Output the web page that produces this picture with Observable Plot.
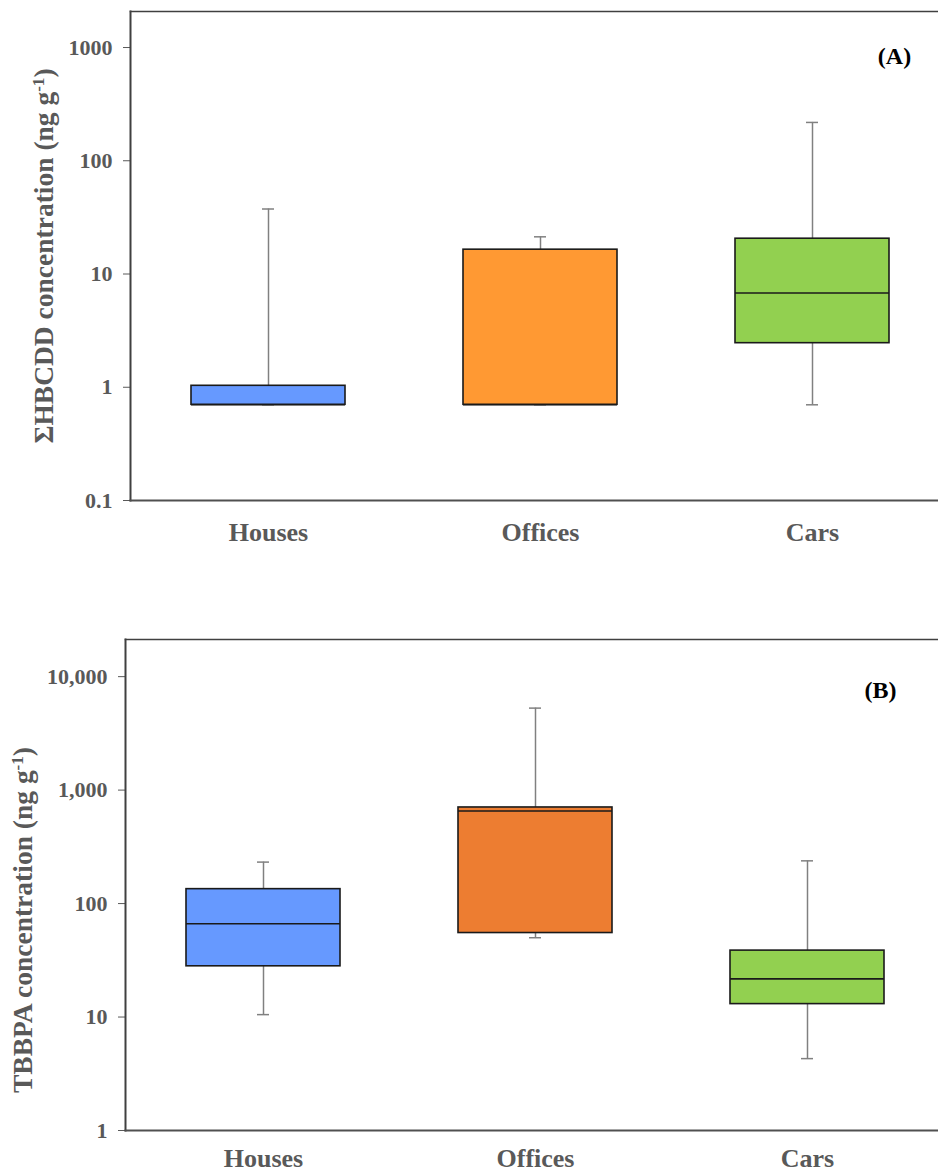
<!DOCTYPE html>
<html>
<head>
<meta charset="utf-8">
<script src="https://cdn.jsdelivr.net/npm/d3@7"></script>
<script src="https://cdn.jsdelivr.net/npm/@observablehq/plot@0.6"></script>
<style>
  html, body { margin: 0; padding: 0; background: #fff; overflow: hidden; width: 938px; height: 1173px; }
  #wrap svg { display: block; }
</style>
</head>
<body>
<div id="wrap"></div>
<script>
// ---- Data ----
const categories = ["Houses", "Offices", "Cars"];

// Panel A: ΣHBCDD (ng g-1)
const hbcddMin    = [0.7, 0.7, 0.7];
const hbcddQ1     = [0.7, 0.7, 2.45];
const hbcddMedian = [0.7, 0.7, 6.8];
const hbcddQ3     = [1.03, 16.4, 20.5];
const hbcddMax    = [37.5, 21.3, 218];

// Panel B: TBBPA (ng g-1)
const tbbpaMin    = [10.5, 50, 4.3];
const tbbpaQ1     = [28, 55, 13];
const tbbpaMedian = [66.5, 655, 21.7];
const tbbpaQ3     = [134, 703, 38.5];
const tbbpaMax    = [232, 5280, 238];

const ticksA = [0.1, 1, 10, 100, 1000];
const ticksB = [1, 10, 100, 1000, 10000];

const colorsA = ["#6699FF", "#FF9933", "#92D050"];
const colorsB = ["#6699FF", "#ED7D31", "#92D050"];

const titleA = "ΣHBCDD concentration (ng g-1)";
const titleB = "TBBPA concentration (ng g-1)";

function rows(mn, q1, md, q3, mx) {
  return categories.map((c, i) => ({cat: c, min: mn[i], q1: q1[i], med: md[i], q3: q3[i], max: mx[i]}));
}

const dataA = rows(hbcddMin, hbcddQ1, hbcddMedian, hbcddQ3, hbcddMax);
const dataB = rows(tbbpaMin, tbbpaQ1, tbbpaMedian, tbbpaQ3, tbbpaMax);

const FONT = "'Liberation Serif', 'Times New Roman', serif";
const GRAY = "#595959";
const WHISK = "#808080";
const EDGE = "#1a1a1a";

function boxChart(o) {
  return Plot.plot({
    width: 938,
    height: o.height,
    marginTop: o.marginTop,
    marginBottom: o.marginBottom,
    marginLeft: o.marginLeft,
    marginRight: 0,
    style: {fontFamily: FONT, fontWeight: "bold", color: GRAY, background: "#fff", overflow: "visible"},
    x: {domain: categories, range: [o.marginLeft, o.marginLeft + 820], paddingInner: 0.432, paddingOuter: 0.22},
    y: {type: "log", domain: o.yDomain},
    color: {domain: categories, range: o.colors},
    marks: [
      Plot.axisY({ticks: o.ticks, tickFormat: o.tickFormat, tickSize: 7, tickPadding: 11, fontSize: 22, label: null, stroke: GRAY}),
      Plot.axisX({tickSize: 0, tickPadding: o.xPad, fontSize: 26, label: null}),
      Plot.frame({anchor: "top", stroke: "#404040", strokeWidth: 1.5}),
      Plot.frame({anchor: "left", stroke: "#404040", strokeWidth: 2}),
      Plot.frame({anchor: "bottom", stroke: "#505050", strokeWidth: 2}),
      Plot.ruleX(o.data, {x: "cat", y1: "q3", y2: "max", stroke: WHISK, strokeWidth: 1.5}),
      Plot.ruleX(o.data, {x: "cat", y1: "min", y2: "q1", stroke: WHISK, strokeWidth: 1.5}),
      Plot.tickY(o.data, {x: "cat", y: "max", stroke: WHISK, strokeWidth: 1.5, insetLeft: 71, insetRight: 71}),
      Plot.tickY(o.data, {x: "cat", y: "min", stroke: WHISK, strokeWidth: 1.5, insetLeft: 71, insetRight: 71}),
      Plot.barY(o.data, {x: "cat", y1: "q1", y2: "q3", fill: "cat", stroke: EDGE, strokeWidth: 1.6}),
      Plot.tickY(o.data, {x: "cat", y: "med", stroke: EDGE, strokeWidth: 1.6}),
      Plot.text([o.title], {text: d => d, frameAnchor: "left", dx: o.titleDx, dy: o.titleDy, rotate: -90,
        fontSize: 27.5, fill: GRAY, textAnchor: "middle", lineAnchor: "middle"}),
      Plot.text([o.panel], {text: d => d, frameAnchor: "top-right", dx: o.panelDx, dy: o.panelDy,
        fontSize: 24, fill: "#000", textAnchor: "middle", lineAnchor: "middle"})
    ]
  });
}

function superscript(svg, title) {
  svg.querySelectorAll("text").forEach(t => {
    if (t.textContent === title) {
      const base = title.replace("-1)", "");
      t.textContent = base;
      const ns = "http://www.w3.org/2000/svg";
      const sup = document.createElementNS(ns, "tspan");
      sup.setAttribute("baseline-shift", "super");
      sup.setAttribute("font-size", "62%");
      sup.textContent = "-1";
      const close = document.createElementNS(ns, "tspan");
      close.textContent = ")";
      t.appendChild(sup);
      t.appendChild(close);
    }
  });
}

const chartA = boxChart({
  data: dataA, height: 590, marginTop: 11, marginBottom: 90, marginLeft: 130,
  yDomain: [0.1, 2080], ticks: ticksA, tickFormat: d => String(d), xPad: 22,
  colors: colorsA, title: titleA, titleDx: -86, titleDy: 0,
  panel: "(A)", panelDx: -44, panelDy: 45
});
superscript(chartA, titleA);

const chartB = boxChart({
  data: dataB, height: 583, marginTop: 49, marginBottom: 43, marginLeft: 125,
  yDomain: [1, 21250], ticks: ticksB, tickFormat: d3.format(","), xPad: 18,
  colors: colorsB, title: titleB, titleDx: -102, titleDy: 35,
  panel: "(B)", panelDx: -58, panelDy: 51
});
superscript(chartB, titleB);

document.getElementById("wrap").append(chartA, chartB);
</script>
</body>
</html>
